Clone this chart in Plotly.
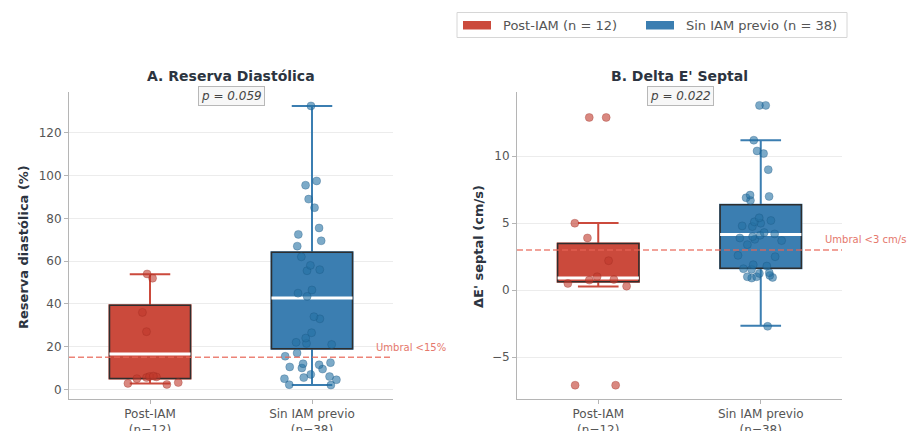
import plotly.graph_objects as go

# ---------------- data ----------------
groups = ["Post-IAM", "Sin IAM previo"]
n_counts = [12, 38]
tick_labels = ["Post-IAM<br>(n=12)", "Sin IAM previo<br>(n=38)"]

# Panel A: Reserva diastólica (%)
resA_post = [54, 52, 36, 27, 6.2, 6.0, 5.8, 5.5, 5.0, 3.2, 2.8, 2.3]
resA_sin = [132.6, 97.5, 95.5, 89, 85, 75.5, 72.5, 69.5, 67, 62, 58, 56, 55.5,
            46.5, 45, 43.5, 34, 33, 26.5, 24, 22, 21.5, 21, 17, 15.5, 12.5, 12,
            11.5, 10.5, 10, 9.5, 7, 6, 5.5, 5, 4.5, 2.2, 2.0]
# box statistics [Post-IAM, Sin IAM previo]
resA_q1 = [5.1, 19.0]
resA_median = [16.5, 42.7]
resA_q3 = [39.4, 64.2]
resA_low = [2.8, 2.0]
resA_high = [53.8, 132.6]

# Panel B: Delta E' septal (cm/s)
deB_post = [12.9, 12.9, 5.0, 3.9, 2.2, 1.0, 0.8, 0.75, 0.5, 0.3, -7.1, -7.1]
deB_sin = [13.8, 13.8, 11.2, 10.4, 10.2, 9.0, 7.1, 7.0, 6.9, 6.7, 5.4, 5.2, 5.1,
           5.0, 4.8, 4.75, 4.3, 4.2, 4.1, 4.0, 3.9, 3.8, 3.7, 3.4, 2.6, 2.5, 1.9,
           1.8, 1.6, 1.55, 1.3, 1.25, 1.1, 1.0, 1.0, 0.95, 0.9, -2.7]
deB_q1 = [0.62, 1.64]
deB_median = [0.9, 4.15]
deB_q3 = [3.48, 6.37]
deB_low = [0.27, -2.66]
deB_high = [5.02, 11.19]

p_values = ["0.059", "0.022"]
thresholds = [15, 3]
threshold_labels = ["Umbral <15%", "Umbral <3 cm/s"]
panel_titles = ["A. Reserva Diastólica", "B. Delta E' Septal"]
y_titles = ["Reserva diastólica (%)", "ΔE' septal (cm/s)"]
y_ranges = [[-4.5, 139.1], [-8.13, 14.8]]
y_ticks = [[0, 20, 40, 60, 80, 100, 120], [-5, 0, 5, 10]]

# ---------------- styling ----------------
FONT = "DejaVu Sans"
W, H = 918, 431
box_colors = ["#cb4a3c", "#3b7eb1"]
point_colors = ["rgba(192,57,43,0.6)", "rgba(36,113,163,0.6)"]
point_edges = ["rgba(150,40,30,0.5)", "rgba(25,80,125,0.5)"]
outline_color = "#2e2e2e"
thr_color = "rgba(231,100,85,0.8)"
title_color = "#2c3440"


def px(x):
    return x / W


def py(y):
    return 1 - y / H


fig = go.Figure()

panels = [
    dict(xa="x", ya="y", xo="x3", yo="y3", pts=[resA_post, resA_sin], q1=resA_q1,
         med=resA_median, q3=resA_q3, lo=resA_low, hi=resA_high),
    dict(xa="x2", ya="y2", xo="x4", yo="y4", pts=[deB_post, deB_sin], q1=deB_q1,
         med=deB_median, q3=deB_q3, lo=deB_low, hi=deB_high),
]

for p in panels:
    for i, cat in enumerate(tick_labels):
        common = dict(x=[cat], xaxis=p["xa"], yaxis=p["ya"], width=0.5,
                      showlegend=False, hoverinfo="skip", boxpoints=False)
        # colored whiskers + box fill
        fig.add_trace(go.Box(q1=[p["q1"][i]], median=[p["med"][i]], q3=[p["q3"][i]],
                             lowerfence=[p["lo"][i]], upperfence=[p["hi"][i]],
                             fillcolor=box_colors[i], whiskerwidth=0.5,
                             line=dict(color=box_colors[i], width=2), **common))
        # dark box outline
        fig.add_trace(go.Box(q1=[p["q1"][i]], median=[p["med"][i]], q3=[p["q3"][i]],
                             lowerfence=[p["q1"][i]], upperfence=[p["q3"][i]],
                             fillcolor="rgba(0,0,0,0)", whiskerwidth=0,
                             line=dict(color=outline_color, width=1.5), **common))
        # white median line
        m = p["med"][i]
        fig.add_trace(go.Box(q1=[m], median=[m], q3=[m], lowerfence=[m], upperfence=[m],
                             fillcolor="rgba(0,0,0,0)", whiskerwidth=0,
                             line=dict(color="white", width=3), **common))
    # jittered points on an overlaid (transparent) subplot so they sit above the boxes
    for i, cat in enumerate(tick_labels):
        vals = p["pts"][i]
        fig.add_trace(go.Box(x=[cat] * len(vals), y=vals, xaxis=p["xo"], yaxis=p["yo"],
                             boxpoints="all", jitter=0.9, pointpos=0, width=0.5,
                             fillcolor="rgba(0,0,0,0)",
                             line=dict(color="rgba(0,0,0,0)", width=0),
                             marker=dict(color=point_colors[i], size=8,
                                         line=dict(color=point_edges[i], width=0.6)),
                             showlegend=False, hoverinfo="skip"))

xdoms = [[px(69), px(393)], [px(517), px(842)]]
ydom = [py(399), py(92)]

axis_common_x = dict(type="category", categoryorder="array", categoryarray=tick_labels,
                     range=[-0.5, 1.5], showline=True, linecolor="#b5b5b5", linewidth=1,
                     ticks="outside", ticklen=4, tickcolor="#b5b5b5", showgrid=False,
                     zeroline=False, automargin=False,
                     tickfont=dict(family=FONT, size=12, color="#555"))
axis_common_y = dict(showline=True, linecolor="#b5b5b5", linewidth=1, ticks="outside",
                     ticklen=4, tickcolor="#b5b5b5", showgrid=True, gridcolor="#ececec",
                     gridwidth=1, zeroline=False, automargin=False,
                     tickfont=dict(family=FONT, size=12, color="#555"))
overlay_x = dict(type="category", categoryorder="array", categoryarray=tick_labels,
                 range=[-0.5, 1.5], visible=False, showgrid=False, zeroline=False,
                 automargin=False)
overlay_y = dict(visible=False, showgrid=False, zeroline=False, automargin=False)

fig.update_layout(
    width=W, height=H, autosize=False,
    margin=dict(l=0, r=0, t=0, b=0, pad=0, autoexpand=False),
    paper_bgcolor="white", plot_bgcolor="white",
    boxmode="overlay",
    font=dict(family=FONT, size=12, color="#444"),
    xaxis=dict(domain=xdoms[0], anchor="y", **axis_common_x),
    yaxis=dict(domain=ydom, anchor="x", range=y_ranges[0], tickvals=y_ticks[0],
               **axis_common_y),
    xaxis2=dict(domain=xdoms[1], anchor="y2", **axis_common_x),
    yaxis2=dict(domain=ydom, anchor="x2", range=y_ranges[1], tickvals=y_ticks[1],
                **axis_common_y),
    xaxis3=dict(domain=xdoms[0], anchor="y3", overlaying="x", **overlay_x),
    yaxis3=dict(domain=ydom, anchor="x3", overlaying="y", range=y_ranges[0], **overlay_y),
    xaxis4=dict(domain=xdoms[1], anchor="y4", overlaying="x2", **overlay_x),
    yaxis4=dict(domain=ydom, anchor="x4", overlaying="y2", range=y_ranges[1], **overlay_y),
)

shapes = []
annotations = []
title_x = [px(231), px(679)]
ptext_xy = [(px(231), py(96.5)), (px(680), py(95.8))]
ytitle_x = [px(23), px(478)]
for k, p in enumerate(panels):
    yref = p["ya"]
    xdom_ref = p["xa"] + " domain"
    shapes.append(dict(type="line", xref=xdom_ref, x0=0, x1=1, yref=yref,
                       y0=thresholds[k], y1=thresholds[k], layer="above",
                       line=dict(color=thr_color, width=1.5, dash="6px,3px")))
    annotations.append(dict(xref=xdom_ref, x=0.94, yref=yref, y=thresholds[k],
                            yshift=10, xanchor="left", yanchor="middle", showarrow=False,
                            text=threshold_labels[k],
                            font=dict(family=FONT, size=10, color="#e5786c")))
    annotations.append(dict(xref="paper", yref="paper", x=title_x[k], y=py(75.5),
                            xanchor="center", yanchor="middle", showarrow=False,
                            text="<b>" + panel_titles[k] + "</b>",
                            font=dict(family=FONT, size=14, color=title_color)))
    annotations.append(dict(xref="paper", yref="paper", x=ptext_xy[k][0], y=ptext_xy[k][1],
                            xanchor="center", yanchor="middle", showarrow=False,
                            text="<i>p</i> = " + "<i>" + p_values[k] + "</i>",
                            font=dict(family=FONT, size=12, color="#444"),
                            bgcolor="#f7f7f7", bordercolor="#b8b8b8", borderwidth=1,
                            borderpad=2))
    annotations.append(dict(xref="paper", yref="paper", x=ytitle_x[k], y=py(247),
                            xanchor="center", yanchor="middle", showarrow=False,
                            textangle=-90, text="<b>" + y_titles[k] + "</b>",
                            font=dict(family=FONT, size=13, color=title_color)))

# manual legend (matplotlib-style patches)
shapes.append(dict(type="rect", xref="paper", yref="paper", x0=px(457), x1=px(847),
                   y0=py(37.5), y1=py(12.5), line=dict(color="#d6d6d6", width=1),
                   fillcolor="white", layer="above"))
patch_x = [463, 646]
text_x = [501, 684]
for i, g in enumerate(groups):
    shapes.append(dict(type="rect", xref="paper", yref="paper",
                       x0=px(patch_x[i]), x1=px(patch_x[i] + 28),
                       y0=py(29.5), y1=py(21), line=dict(width=0),
                       fillcolor=box_colors[i], layer="above"))
    annotations.append(dict(xref="paper", yref="paper", x=px(text_x[i]), y=py(25.5),
                            xanchor="left", yanchor="middle", showarrow=False,
                            text=f"{g} (n = {n_counts[i]})",
                            font=dict(family=FONT, size=13, color="#555")))

fig.update_layout(shapes=shapes, annotations=annotations)
fig.write_html("out.html", config={"displayModeBar": False, "responsive": False},
               post_script="document.body.style.margin='0';document.body.style.padding='0';")
